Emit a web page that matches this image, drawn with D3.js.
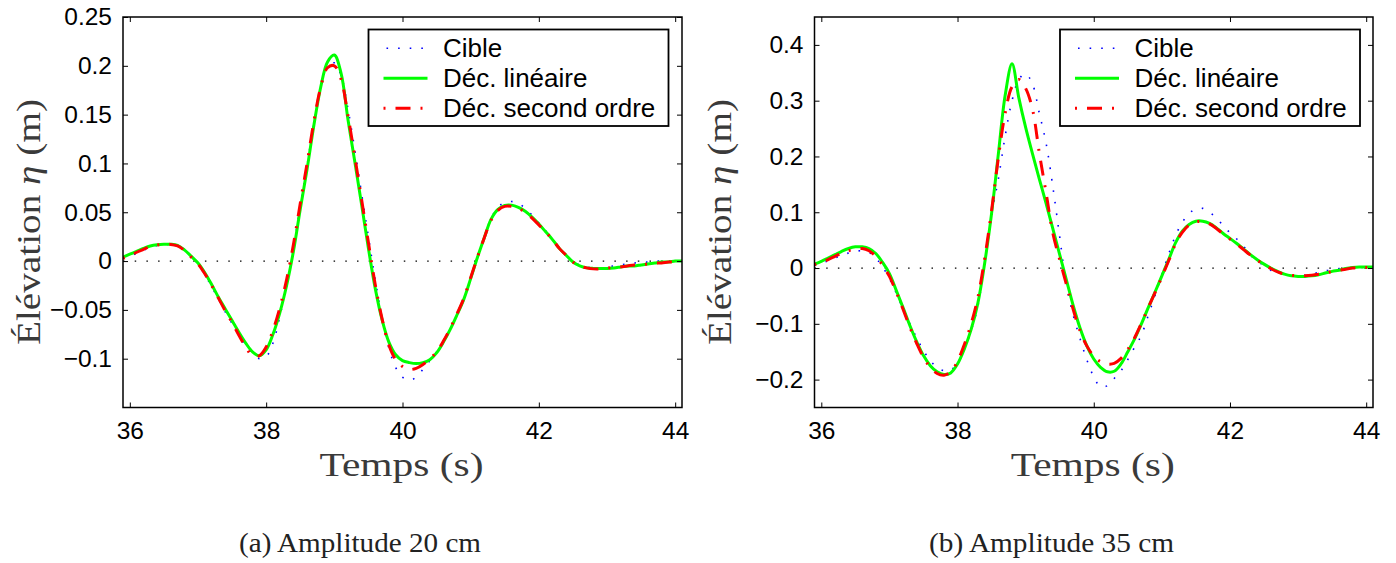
<!DOCTYPE html>
<html><head><meta charset="utf-8">
<script src="https://cdn.jsdelivr.net/npm/d3@7"></script>
<style>body{margin:0;background:#fff}svg{display:block}</style>
</head><body>
<svg id="fig" width="1396" height="563"></svg>
<script>
// ---------- data ----------
const time = [35.9,36.0,36.1,36.2,36.3,36.4,36.5,36.6,36.7,36.8,36.9,
  37.0,37.1,37.2,37.3,37.4,37.5,37.6,37.7,37.8,37.9,
  38.0,38.1,38.2,38.3,38.4,38.5,38.6,38.7,38.8,38.9,
  39.0,39.1,39.2,39.3,39.4,39.5,39.6,39.7,39.8,39.9,
  40.0,40.1,40.2,40.3,40.4,40.5,40.6,40.7,40.8,40.9,
  41.0,41.1,41.2,41.3,41.4,41.5,41.6,41.7,41.8,41.9,
  42.0,42.1,42.2,42.3,42.4,42.5,42.6,42.7,42.8,42.9,
  43.0,43.1,43.2,43.3,43.4,43.5,43.6,43.7,43.8,43.9,
  44.0,44.1];

// (a) amplitude 20 cm
const cibleA = [0.003,0.005,0.008,0.011,0.014,0.016,0.017,0.017,0.016,0.012,0.005,
  -0.003,-0.014,-0.026,-0.039,-0.052,-0.064,-0.076,-0.087,-0.095,-0.100,
  -0.098,-0.084,-0.057,-0.024,0.014,0.056,0.098,0.141,0.177,0.199,
  0.203,0.190,0.156,0.114,0.069,0.025,-0.019,-0.058,-0.089,-0.109,
  -0.119,-0.122,-0.119,-0.111,-0.102,-0.093,-0.083,-0.070,-0.055,-0.039,
  -0.018,0.004,0.025,0.044,0.055,0.060,0.061,0.059,0.054,0.047,
  0.039,0.031,0.022,0.013,0.006,-0.001,-0.004,-0.006,-0.007,-0.007,
  -0.006,-0.005,-0.004,-0.003,-0.002,-0.001,-0.001,0,0,0,
  0,0];
const lineaireA = [0.004,0.007,0.010,0.013,0.0155,0.0168,0.0173,0.0172,0.016,0.0115,0.005,
  -0.002,-0.012,-0.024,-0.037,-0.049,-0.061,-0.073,-0.084,-0.093,-0.097,
  -0.091,-0.075,-0.053,-0.025,0.010,0.053,0.094,0.139,0.178,0.204,
  0.211,0.192,0.145,0.102,0.058,0.013,-0.028,-0.060,-0.083,-0.096,
  -0.102,-0.104,-0.105,-0.104,-0.101,-0.094,-0.083,-0.070,-0.055,-0.039,
  -0.018,0.004,0.024,0.043,0.053,0.057,0.0573,0.055,0.051,0.045,
  0.038,0.030,0.022,0.013,0.006,-0.001,-0.005,-0.007,-0.0075,-0.0075,
  -0.0075,-0.007,-0.006,-0.005,-0.005,-0.004,-0.003,-0.002,-0.001,-0.001,
  0,0];
const secondA = [0.003,0.005,0.009,0.012,0.015,0.0165,0.017,0.017,0.0155,0.011,0.004,
  -0.003,-0.013,-0.025,-0.038,-0.051,-0.063,-0.076,-0.088,-0.097,-0.097,
  -0.088,-0.071,-0.048,-0.019,0.017,0.059,0.100,0.143,0.178,0.198,
  0.200,0.186,0.149,0.107,0.063,0.019,-0.024,-0.059,-0.086,-0.101,
  -0.108,-0.111,-0.110,-0.106,-0.100,-0.093,-0.082,-0.069,-0.054,-0.038,
  -0.017,0.004,0.024,0.042,0.052,0.056,0.056,0.054,0.050,0.044,
  0.037,0.030,0.022,0.013,0.006,-0.001,-0.005,-0.007,-0.008,-0.008,
  -0.007,-0.007,-0.006,-0.005,-0.004,-0.004,-0.003,-0.002,-0.002,-0.001,
  -0.001,0];

// (b) amplitude 35 cm
const cibleB = [0.005,0.009,0.013,0.018,0.023,0.027,0.030,0.031,0.028,0.018,0.002,
  -0.019,-0.045,-0.073,-0.100,-0.125,-0.148,-0.166,-0.178,-0.184,-0.183,
  -0.170,-0.146,-0.112,-0.068,0.012,0.095,0.160,0.237,0.300,0.338,
  0.348,0.330,0.278,0.224,0.145,0.056,-0.032,-0.085,-0.127,-0.165,
  -0.195,-0.213,-0.211,-0.198,-0.184,-0.164,-0.142,-0.120,-0.085,-0.049,
  -0.012,0.025,0.058,0.082,0.098,0.106,0.107,0.100,0.090,0.076,
  0.063,0.052,0.039,0.023,0.013,0.004,-0.004,-0.008,-0.011,-0.013,
  -0.014,-0.013,-0.011,-0.008,-0.005,-0.003,-0.001,0,0.001,0.001,
  0.001,0.001];
const lineaireB = [0.007,0.012,0.018,0.024,0.030,0.035,0.038,0.038,0.035,0.026,0.010,
  -0.010,-0.040,-0.071,-0.103,-0.132,-0.157,-0.175,-0.186,-0.191,-0.188,
  -0.172,-0.145,-0.110,-0.062,0.010,0.098,0.205,0.310,0.366,0.305,
  0.252,0.205,0.160,0.116,0.070,0.024,-0.022,-0.068,-0.108,-0.140,
  -0.163,-0.178,-0.186,-0.185,-0.172,-0.150,-0.127,-0.100,-0.071,-0.043,
  -0.014,0.015,0.045,0.066,0.078,0.084,0.084,0.080,0.072,0.062,
  0.053,0.044,0.034,0.024,0.015,0.007,0.000,-0.006,-0.011,-0.014,
  -0.015,-0.015,-0.014,-0.012,-0.009,-0.006,-0.004,-0.001,0.001,0.002,
  0.002,0.002];
const secondB = [0.006,0.010,0.015,0.021,0.027,0.031,0.034,0.035,0.031,0.021,0.005,
  -0.015,-0.043,-0.074,-0.106,-0.135,-0.160,-0.178,-0.189,-0.192,-0.186,
  -0.167,-0.137,-0.100,-0.052,0.018,0.103,0.198,0.278,0.325,0.338,
  0.322,0.285,0.207,0.135,0.062,0.015,-0.030,-0.075,-0.113,-0.140,
  -0.158,-0.168,-0.172,-0.171,-0.162,-0.146,-0.125,-0.099,-0.071,-0.044,
  -0.016,0.013,0.043,0.064,0.077,0.083,0.083,0.079,0.071,0.061,
  0.052,0.043,0.033,0.023,0.014,0.006,-0.001,-0.007,-0.011,-0.013,
  -0.014,-0.014,-0.013,-0.011,-0.009,-0.006,-0.004,-0.002,0.000,0.001,
  0.001,0.002];

const xTickValues = [36, 38, 40, 42, 44];
const yTicksA = [-0.1, -0.05, 0, 0.05, 0.1, 0.15, 0.2, 0.25];
const yTicksB = [-0.2, -0.1, 0, 0.1, 0.2, 0.3, 0.4];
const legendLabels = ["Cible", "Déc. linéaire", "Déc. second ordre"];
const captions = ["(a) Amplitude 20 cm", "(b) Amplitude 35 cm"];
const xLabelText = "Temps (s)";
const yLabelParts = ["Élévation ", "η", " (m)"];

// ---------- layout ----------
const panels = [
  {left: 123, right: 682, top: 17, bottom: 407.5, yDomain: [-0.15, 0.25], yTicks: yTicksA,
   series: [cibleA, lineaireA, secondA], legendX: 368.5, ylabX: 40, caption: captions[0], capX: 360, capLen: 242},
  {left: 814.5, right: 1373, top: 17, bottom: 407.5, yDomain: [-0.25, 0.45], yTicks: yTicksB,
   series: [cibleB, lineaireB, secondB], legendX: 1060, ylabX: 731, caption: captions[1], capX: 1051.5, capLen: 245}
];
const styles = [
  {color: "#0000ff", width: 1.6, dash: "1.6,10"},
  {color: "#00ff00", width: 3, dash: null},
  {color: "#ff0000", width: 3, dash: "2,10,15,10"}
];
const fmt = v => v === 0 ? "0" : (v < 0 ? "\u2212" : "") + String(Math.abs(v));

const svg = d3.select("#fig");
const sansFont = "'Liberation Sans', Arial, Helvetica, sans-serif";
const serifFont = "'Liberation Serif', 'Times New Roman', serif";

panels.forEach((p, pi) => {
  const x = d3.scaleLinear().domain([35.9, 44.1]).range([p.left, p.right]);
  const y = d3.scaleLinear().domain(p.yDomain).range([p.bottom, p.top]);
  const g = svg.append("g");

  const clipId = "clip" + pi;
  svg.append("clipPath").attr("id", clipId).append("rect")
    .attr("x", p.left).attr("y", p.top).attr("width", p.right - p.left).attr("height", p.bottom - p.top);

  // zero reference line
  g.append("line")
    .attr("x1", x(35.9)).attr("x2", x(44.1)).attr("y1", y(0)).attr("y2", y(0))
    .attr("stroke", "#000").attr("stroke-width", 1.3).attr("stroke-dasharray", "1.5,10.2");

  // series
  const line = d3.line().x((d, i) => x(time[i])).y(d => y(d)).curve(d3.curveCatmullRom.alpha(0.5));
  p.series.forEach((s, si) => {
    const st = styles[si];
    g.append("path").datum(s)
      .attr("clip-path", `url(#${clipId})`)
      .attr("d", line).attr("fill", "none")
      .attr("stroke", st.color).attr("stroke-width", st.width)
      .attr("stroke-dasharray", st.dash).attr("stroke-linejoin", "round");
  });

  // axes
  const axB = g.append("g").attr("transform", `translate(0,${p.bottom})`)
    .call(d3.axisBottom(x).tickValues(xTickValues).tickSizeInner(-5).tickSizeOuter(0).tickPadding(14.5).tickFormat(d => d));
  const axT = g.append("g").attr("transform", `translate(0,${p.top})`)
    .call(d3.axisTop(x).tickValues(xTickValues).tickSizeInner(-5).tickSizeOuter(0).tickFormat(""));
  const axL = g.append("g").attr("transform", `translate(${p.left},0)`)
    .call(d3.axisLeft(y).tickValues(p.yTicks).tickSizeInner(-5).tickSizeOuter(0).tickPadding(11).tickFormat(fmt));
  const axR = g.append("g").attr("transform", `translate(${p.right},0)`)
    .call(d3.axisRight(y).tickValues(p.yTicks).tickSizeInner(-5).tickSizeOuter(0).tickFormat(""));
  [axB, axT, axL, axR].forEach(a => {
    a.select(".domain").remove();
    a.selectAll(".tick line").attr("stroke", "#000").attr("stroke-width", 1);
    a.selectAll(".tick text").attr("fill", "#000").style("font-family", sansFont).style("font-size", "24.5px");
  });

  // box
  g.append("rect").attr("x", p.left).attr("y", p.top)
    .attr("width", p.right - p.left).attr("height", p.bottom - p.top)
    .attr("fill", "none").attr("stroke", "#000").attr("stroke-width", 1.5);

  // axis labels
  g.append("text").attr("x", (p.left + p.right) / 2 - 1).attr("y", 476)
    .attr("text-anchor", "middle").style("font-family", serifFont).style("font-size", "33px")
    .attr("fill", "#3a3a3a").attr("textLength", 164).attr("lengthAdjust", "spacingAndGlyphs")
    .text(xLabelText);
  const yl = g.append("text")
    .attr("transform", `translate(${p.ylabX},222) rotate(-90)`)
    .attr("text-anchor", "middle").style("font-family", serifFont).style("font-size", "33px")
    .attr("fill", "#3a3a3a").attr("textLength", 246).attr("lengthAdjust", "spacingAndGlyphs");
  yl.append("tspan").text(yLabelParts[0]);
  yl.append("tspan").style("font-style", "italic").text(yLabelParts[1]);
  yl.append("tspan").text(yLabelParts[2]);

  // legend
  const lg = g.append("g");
  lg.append("rect").attr("x", p.legendX).attr("y", 29.5).attr("width", 300).attr("height", 96.5)
    .attr("fill", "#fff").attr("stroke", "#000").attr("stroke-width", 1.8);
  legendLabels.forEach((lab, i) => {
    const ry = 48.3 + 30 * i;
    const st = styles[i];
    lg.append("line").attr("x1", p.legendX + 15).attr("x2", p.legendX + 59)
      .attr("y1", ry).attr("y2", ry)
      .attr("stroke", st.color).attr("stroke-width", st.width)
      .attr("stroke-dasharray", st.dash)
      .attr("stroke-dashoffset", i === 0 ? -3 : 0);
    lg.append("text").attr("x", p.legendX + 74.4).attr("y", ry + 9)
      .style("font-family", sansFont).style("font-size", "26px").attr("fill", "#000").text(lab);
  });

  // caption
  svg.append("text").attr("x", p.capX).attr("y", 552)
    .attr("text-anchor", "middle").style("font-family", serifFont).style("font-size", "27px")
    .attr("fill", "#222").attr("textLength", p.capLen).attr("lengthAdjust", "spacingAndGlyphs")
    .text(p.caption);
});
</script>
</body></html>
